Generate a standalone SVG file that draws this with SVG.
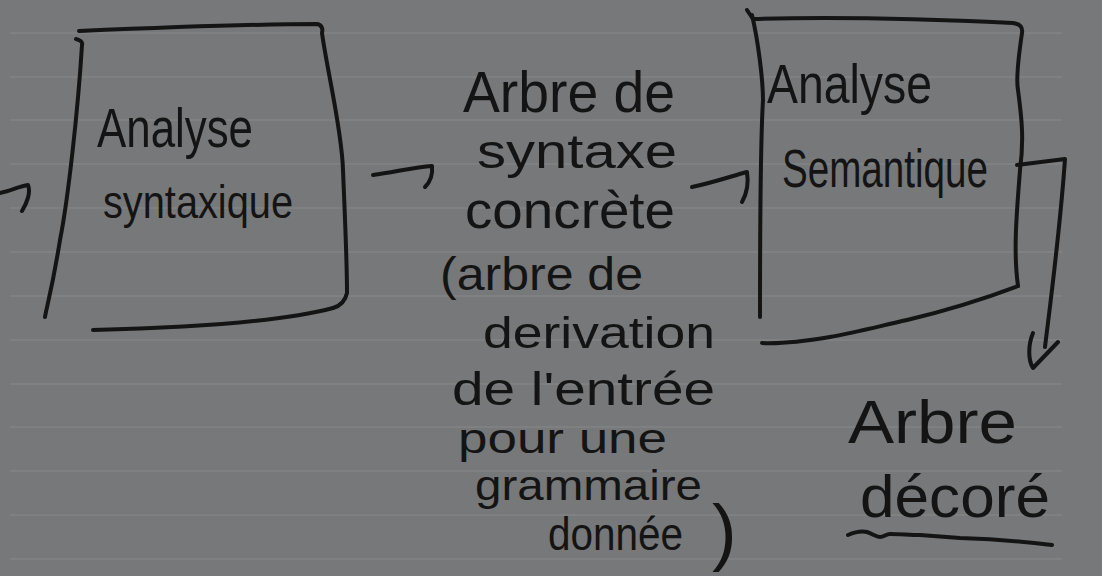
<svg xmlns="http://www.w3.org/2000/svg" width="1102" height="576" viewBox="0 0 1102 576">
  <style>
    .ink { fill: none; stroke: #141414; stroke-width: 4; stroke-linecap: round; stroke-linejoin: round; }
    .rule { stroke: #828386; stroke-width: 1.3; }
    .hw { font-family: "Liberation Sans", "DejaVu Sans", sans-serif; fill: #141414; }
  </style>
  <rect x="0" y="0" width="1102" height="576" fill="#77787a"/>
  <g id="ruled-lines">
    <line class="rule" x1="10" y1="33" x2="1062" y2="33"/>
    <line class="rule" x1="10" y1="77" x2="1062" y2="77"/>
    <line class="rule" x1="10" y1="120" x2="1062" y2="120"/>
    <line class="rule" x1="10" y1="164" x2="1062" y2="164"/>
    <line class="rule" x1="10" y1="208" x2="1062" y2="208"/>
    <line class="rule" x1="10" y1="252" x2="1062" y2="252"/>
    <line class="rule" x1="10" y1="296" x2="1062" y2="296"/>
    <line class="rule" x1="10" y1="340" x2="1062" y2="340"/>
    <line class="rule" x1="10" y1="384" x2="1062" y2="384"/>
    <line class="rule" x1="10" y1="427" x2="1062" y2="427"/>
    <line class="rule" x1="10" y1="471" x2="1062" y2="471"/>
    <line class="rule" x1="10" y1="515" x2="1062" y2="515"/>
    <line class="rule" x1="10" y1="559" x2="1062" y2="559"/>
  </g>

  <g id="analyse-syntaxique">
    <path class="ink" d="M79,31 C150,28 250,24 317,24 C322,25 323,29 322,33 C327,70 342,130 343,170 C345,220 347,260 347,293 C345,302 340,306 333,308"/>
    <path class="ink" d="M93,330 C180,328 280,322 333,308"/>
    <path class="ink" d="M76,39 C80,40 83,42 82,45 C78,110 68,200 60,240 C52,290 47,305 45,317"/>
    <text class="hw" x="97" y="147" font-size="56" textLength="156" lengthAdjust="spacingAndGlyphs">Analyse</text>
    <text class="hw" x="103" y="218" font-size="46" textLength="190" lengthAdjust="spacingAndGlyphs">syntaxique</text>
  </g>

  <g id="arbre-syntaxe-concrete">
    <text class="hw" x="463" y="112" font-size="58" textLength="212" lengthAdjust="spacingAndGlyphs">Arbre de</text>
    <text class="hw" x="477" y="168" font-size="48" textLength="200" lengthAdjust="spacingAndGlyphs">syntaxe</text>
    <text class="hw" x="465" y="228" font-size="52" textLength="210" lengthAdjust="spacingAndGlyphs">concrète</text>
    <text class="hw" x="440" y="290" font-size="46" textLength="203" lengthAdjust="spacingAndGlyphs">(arbre de</text>
    <text class="hw" x="483" y="348" font-size="44" textLength="232" lengthAdjust="spacingAndGlyphs">derivation</text>
    <text class="hw" x="452" y="405" font-size="46" textLength="263" lengthAdjust="spacingAndGlyphs">de l'entrée</text>
    <text class="hw" x="458" y="453" font-size="42" textLength="209" lengthAdjust="spacingAndGlyphs">pour une</text>
    <text class="hw" x="475" y="500" font-size="42" textLength="227" lengthAdjust="spacingAndGlyphs">grammaire</text>
    <text class="hw" x="548" y="550" font-size="46"><tspan textLength="135" lengthAdjust="spacingAndGlyphs">donnée</tspan><tspan x="712" y="557" font-size="74">)</tspan></text>
  </g>

  <g id="analyse-semantique">
    <path class="ink" d="M747,10 L753,19 C850,16 950,20 1013,23 C1020,24 1023,27 1022,33 C1018,60 1016,80 1018,90 C1022,120 1024,140 1020,170 C1017,210 1013,250 1018,286"/>
    <path class="ink" d="M1018,286 C973,303 940,312 907,320 C880,326 857,332 830,337 C800,342 780,344 762,343"/>
    <path class="ink" d="M752,15 C758,40 763,80 763,100 C760,150 760,250 760,317"/>
    <text class="hw" x="767" y="103" font-size="56" textLength="165" lengthAdjust="spacingAndGlyphs">Analyse</text>
    <text class="hw" x="782" y="187" font-size="54" textLength="206" lengthAdjust="spacingAndGlyphs">Semantique</text>
  </g>

  <g id="arbre-decore">
    <text class="hw" x="848" y="443" font-size="62" textLength="169" lengthAdjust="spacingAndGlyphs">Arbre</text>
    <text class="hw" x="860" y="517" font-size="60" textLength="190" lengthAdjust="spacingAndGlyphs">décoré</text>
    <path class="ink" d="M848,535 C855,532 862,531 867,532 C873,534 876,537 880,537 C884,537 886,534 890,534 C900,534 910,535 920,535 C935,536 945,537 960,538 C990,539 1020,541 1052,545"/>
  </g>

  <g id="connectors">
    <path class="ink" d="M0,193 C10,191 20,186 28,185 C31,192 27,203 22,211"/>
    <path class="ink" d="M373,175 C395,172 415,167 432,166 C433,175 430,182 425,187"/>
    <path class="ink" d="M692,187 C712,183 732,176 747,172 C749,185 746,195 742,202"/>
    <path class="ink" d="M1017,165 L1065,159 C1060,230 1052,290 1045,347"/>
    <path class="ink" d="M1033,333 C1028,345 1028,360 1033,368 L1058,342"/>
  </g>
</svg>
